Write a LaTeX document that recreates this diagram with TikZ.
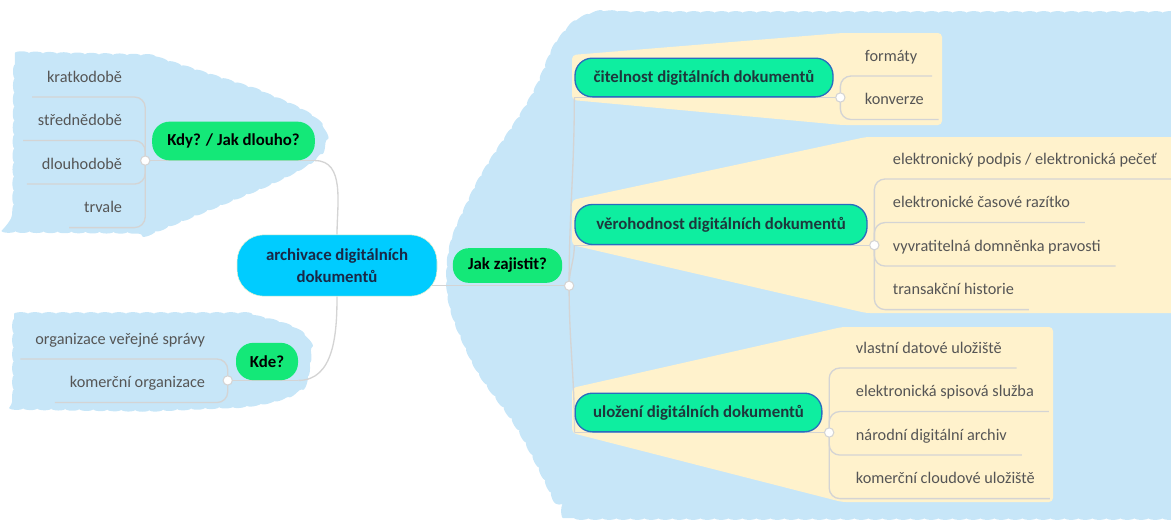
\documentclass[tikz,border=0pt]{standalone}
\usepackage{fontspec}
\setmainfont{Carlito}
\usetikzlibrary{positioning,decorations.pathmorphing}
\definecolor{cloudblue}{RGB}{199,230,248}
\definecolor{paleyellow}{RGB}{255,242,204}
\definecolor{topicgreen}{RGB}{20,232,120}
\definecolor{mint}{RGB}{14,238,160}
\definecolor{mintborder}{RGB}{40,110,190}
\definecolor{rootblue}{RGB}{0,204,255}
\definecolor{rootring}{RGB}{236,240,205}
\definecolor{linegray}{RGB}{212,212,212}
\definecolor{leaftext}{RGB}{85,85,85}
\definecolor{subtext}{RGB}{30,55,60}
\definecolor{roottext}{RGB}{25,40,70}
\pgfdeclarelayer{clouds}
\pgfdeclarelayer{lines}
\pgfsetlayers{clouds,lines,main}

\begin{document}
\begin{tikzpicture}[x=0.75pt, y=-0.75pt, topic/.style={rounded corners=13pt, minimum height=29pt, inner sep=0pt, align=center, font=\fontsize{12.6}{16}\selectfont\bfseries}, branch/.style={topic, fill=topicgreen, text=black}, subtopic/.style={topic, fill=mint, draw=mintborder, line width=1pt, text=subtext}, leaf/.style={text=leaftext, font=\fontsize{12.2}{14}\selectfont, inner xsep=11pt, inner ysep=8pt, text height=9pt, text depth=3pt}, joint/.style={circle, draw=linegray, fill=white, line width=0.8pt, inner sep=0pt, minimum size=7pt}, conn/.style={draw=linegray, line width=1pt, rounded corners=8pt}, cloud/.style={fill=cloudblue, decorate, decoration={bumps, segment length=21pt, amplitude=1.4pt}}, fan/.style={fill=paleyellow, rounded corners=3pt}]
\useasboundingbox (0,0) rectangle (1171,521);
\begin{pgfonlayer}{clouds}
\fill[cloud] (15,53) -- (150,56) -- (250,88) .. controls (300,108) and (326,118) .. (324,140) .. controls (322,158) and (300,170) .. (260,188) -- (153,232) -- (14,231) -- cycle;
\fill[cloud] (14,314) -- (240,314) .. controls (285,322) and (310,330) .. (309,352) -- (308,372) .. controls (306,392) and (280,402) .. (240,406) -- (150,410) -- (14,408) -- cycle;
\fill[cloud] plot[smooth, tension=0.7] coordinates {(563,518) (522,435) (470,355) (448,275) (472,195) (530,100) (558,42) (588,16) (625,13)} -- (1190,13) -- (1190,518) -- cycle;
\fill[fan] (572,55) -- (842,33) -- (942,33) -- (942,125) -- (842,125) -- (572,100) -- cycle;
\fill[fan] (572,200) -- (866,137) -- (1190,137) -- (1190,313) -- (866,313) -- (572,245) -- cycle;
\fill[fan] (572,388) -- (842,327) -- (1053,327) -- (1053,502) -- (842,502) -- (572,433) -- cycle;
\end{pgfonlayer}

\node[topic, fill=rootblue, draw=rootring, rounded corners=20pt, minimum width=150pt, minimum height=46pt, text=roottext] (root) at (337,265.5) {archivace digitálních\\dokumentů};
\node[branch, minimum width=122pt] (kdy) at (233.5,141) {Kdy? / Jak dlouho?};
\node[branch, minimum width=46.5pt, minimum height=28pt] (kde) at (267,361.5) {Kde?};
\node[branch, minimum width=82pt, minimum height=26pt, rounded corners=12pt] (jak) at (507.5,265.5) {Jak zajistit?};
\node[subtopic, minimum width=193.5pt] (cit) at (704,77.5) {čitelnost digitálních dokumentů};
\node[subtopic, minimum width=219pt, minimum height=30pt] (ver) at (721,224.5) {věrohodnost digitálních dokumentů};
\node[subtopic, minimum width=185pt] (ulo) at (698.5,412.5) {uložení digitálních dokumentů};

\node[joint] (kdyj) at ([xshift=-5pt]kdy.south west) {};
\node[joint] (kdej) at ([xshift=-6pt]kde.south west) {};
\node[joint] (jakj) at ([xshift=5pt, yshift=-2pt]jak.south east) {};
\node[joint] (citj) at ([xshift=5pt]cit.south east) {};
\node[joint] (verj) at ([xshift=5pt]ver.south east) {};
\node[joint] (uloj) at ([xshift=5pt]ulo.south east) {};

\node[leaf, anchor=south east] (kratko) at (137,97) {kratkodobě};
\node[leaf, below=4.25pt of kratko.south east, anchor=north east] (stredne) {střednědobě};
\node[leaf, below=4.25pt of stredne.south east, anchor=north east] (dlouho) {dlouhodobě};
\node[leaf, below=4.25pt of dlouho.south east, anchor=north east] (trvale) {trvale};

\node[leaf, anchor=south east] (ovs) at (220,359) {organizace veřejné správy};
\node[leaf, below=4.25pt of ovs.south east, anchor=north east] (komorg) {komerční organizace};

\node[leaf, anchor=south west] (formaty) at (850,76) {formáty};
\node[leaf, below=4.25pt of formaty.south west, anchor=north west] (konverze) {konverze};

\node[leaf, anchor=south west] (podpis) at (878,179) {elektronický podpis / elektronická pečeť};
\node[leaf, below=4.25pt of podpis.south west, anchor=north west] (razitko) {elektronické časové razítko};
\node[leaf, below=4.25pt of razitko.south west, anchor=north west] (domnenka) {vyvratitelná domněnka pravosti};
\node[leaf, below=4.25pt of domnenka.south west, anchor=north west] (historie) {transakční historie};

\node[leaf, anchor=south west] (vlastni) at (841,368) {vlastní datové uložiště};
\node[leaf, below=4.25pt of vlastni.south west, anchor=north west] (spisova) {elektronická spisová služba};
\node[leaf, below=4.25pt of spisova.south west, anchor=north west] (narodni) {národní digitální archiv};
\node[leaf, below=4.25pt of narodni.south west, anchor=north west] (cloudove) {komerční cloudové uložiště};

\begin{pgfonlayer}{lines}
\draw[conn] (kdy.south east) to[out=0,in=90] (root.north);
\draw[conn] (root.south) to[out=-90,in=0] (kde.south east);
\draw[conn] (root |- jakj) -- (jakj);
\draw[conn] (kdy.south east) -- (kdyj);
\draw[conn] (kde.south east) -- (kdej);
\draw[conn] (jakj.center) to[out=90,in=-90] (cit.south west);
\draw[conn] (jakj.center) to[out=90,in=-90] (ver.south west);
\draw[conn] (jakj.center) to[out=-90,in=90] (ulo.south west);
\draw[conn] (cit.south west) -- (citj);
\draw[conn] (ver.south west) -- (verj);
\draw[conn] (ulo.south west) -- (uloj);
\foreach \leafname in {kratko,stredne,dlouho,trvale}
  \draw[conn] (kdyj.center) |- (\leafname.south west);
\foreach \leafname in {ovs,komorg}
  \draw[conn] (kdej.center) |- (\leafname.south west);
\foreach \leafname in {formaty,konverze}
  \draw[conn] (citj.center) |- (\leafname.south east);
\foreach \leafname in {podpis,razitko,domnenka,historie}
  \draw[conn] (verj.center) |- (\leafname.south east);
\foreach \leafname in {vlastni,spisova,narodni,cloudove}
  \draw[conn] (uloj.center) |- (\leafname.south east);
\end{pgfonlayer}
\end{tikzpicture}
\end{document}
